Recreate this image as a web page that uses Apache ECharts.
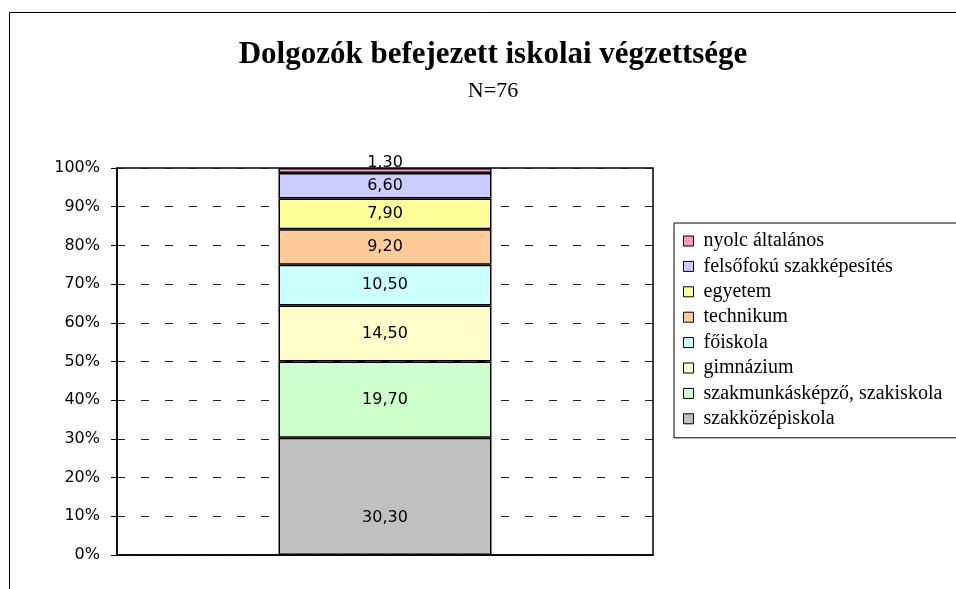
<!DOCTYPE html>
<html>
<head>
<meta charset="utf-8">
<style>
  html, body { margin: 0; padding: 0; background: #fff; }
  #chart { width: 956px; height: 589px; }
</style>
<script src="https://cdn.jsdelivr.net/npm/echarts@6/dist/echarts.min.js"></script>
</head>
<body>
<div id="chart"></div>
<script>
// Stacked 100% column: completed education of employees (N=76)
const categories = ['']
const seriesNames = [
  'szakközépiskola',
  'szakmunkásképző, szakiskola',
  'gimnázium',
  'főiskola',
  'technikum',
  'egyetem',
  'felsőfokú szakképesítés',
  'nyolc általános',
]
const seriesValues = [30.3, 19.7, 14.5, 10.5, 9.2, 7.9, 6.6, 1.3]
const seriesColors = ['#C0C0C0', '#CCFFCC', '#FFFFCC', '#CCFFFF', '#FFCC99', '#FFFF99', '#CCCCFF', '#FF99CC']
const yTicks = [0, 10, 20, 30, 40, 50, 60, 70, 80, 90, 100]

const serif = '"Liberation Serif", "DejaVu Serif", serif'
const sans = '"DejaVu Sans", "Liberation Sans", sans-serif'

const fmt = v => v.toFixed(2).replace('.', ',')
// label nudges, as the original places them
const labelOffset = { 0: [0, 21], 7: [0, -8] }

const chart = echarts.init(document.getElementById('chart'), null, { renderer: 'canvas' })
chart.setOption({
  animation: false,
  backgroundColor: '#fff',
  title: {
    text: 'Dolgozók befejezett iskolai végzettsége',
    subtext: 'N=76',
    left: 488, top: 34, textAlign: 'center', itemGap: 10,
    textStyle: { fontFamily: serif, fontSize: 31, fontWeight: 'bold', color: '#000' },
    subtextStyle: { fontFamily: serif, fontSize: 22, color: '#000' },
  },
  graphic: [{
    type: 'rect', silent: true, z: -1,
    shape: { x: 9.5, y: 12.5, width: 1000, height: 700 },
    style: { fill: 'none', stroke: '#000', lineWidth: 1 },
  }],
  legend: {
    orient: 'vertical', left: 674, top: 223,
    data: seriesNames.slice().reverse(),
    itemWidth: 10, itemHeight: 10, itemGap: 5.4,
    padding: [8, 60, 9, 9],
    borderColor: '#000', borderWidth: 1,
    icon: 'rect',
    itemStyle: { borderColor: '#000', borderWidth: 1 },
    textStyle: { fontFamily: serif, fontSize: 20, color: '#000', padding: [0, 0, 0, 5] },
  },
  grid: {
    left: 117, right: 303, top: 168, bottom: 34,
    show: true, borderColor: '#000', borderWidth: 1.5, backgroundColor: '#fff',
  },
  xAxis: {
    type: 'category', data: categories,
    axisLine: { lineStyle: { color: '#000', width: 1.5 } },
    axisTick: { show: false }, axisLabel: { show: false },
  },
  yAxis: {
    type: 'value', min: yTicks[0], max: yTicks[yTicks.length - 1], interval: 10,
    axisLine: { show: true, lineStyle: { color: '#000', width: 1.5 } },
    axisTick: { show: true, length: 6, lineStyle: { color: '#000' } },
    axisLabel: { fontFamily: sans, fontSize: 16, color: '#000', margin: 17, formatter: '{value}%' },
    splitLine: { lineStyle: { color: '#222', width: 1, type: [8, 16] } },
  },
  series: seriesNames.map((name, i) => ({
    name, type: 'bar', stack: 'total', barWidth: 213,
    data: [seriesValues[i]],
    itemStyle: { color: seriesColors[i], borderColor: '#000', borderWidth: 1.5 },
    label: {
      show: true, position: 'inside', offset: labelOffset[i] || [0, 0],
      fontFamily: sans, fontSize: 16, color: '#000',
      formatter: p => fmt(p.value),
    },
  })),
})
</script>
</body>
</html>
